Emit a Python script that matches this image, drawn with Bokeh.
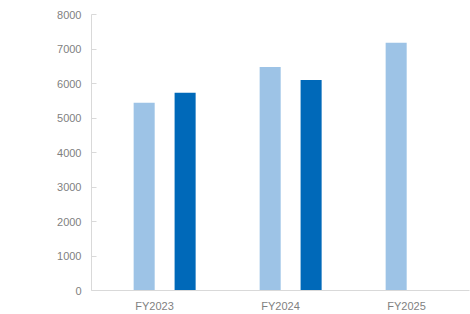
from bokeh.plotting import figure
from bokeh.models import ColumnDataSource, FactorRange, Range1d, SingleIntervalTicker
from bokeh.transform import dodge
from bokeh.embed import file_html
from bokeh.resources import INLINE

categories = ["FY2023", "FY2024", "FY2025"]
series_light = [5440, 6480, 7180]
series_dark = [5730, 6100, None]

light_src = ColumnDataSource(dict(
    cat=[c for c, v in zip(categories, series_light) if v is not None],
    val=[v for v in series_light if v is not None]))
dark_src = ColumnDataSource(dict(
    cat=[c for c, v in zip(categories, series_dark) if v is not None],
    val=[v for v in series_dark if v is not None]))

p = figure(width=470, height=314, x_range=FactorRange(*categories),
           y_range=Range1d(0, 8000), output_backend="svg", toolbar_location=None,
           min_border_left=91, min_border_right=1, min_border_top=14, min_border_bottom=23)
p.outline_line_color = None
p.xgrid.visible = False
p.ygrid.visible = False
p.background_fill_color = "white"
p.border_fill_color = "white"

bw = 0.167
p.vbar(x=dodge("cat", -0.082, range=p.x_range), top="val", width=bw, source=light_src,
       fill_color="#9DC3E6", line_color=None)
p.vbar(x=dodge("cat", 0.243, range=p.x_range), top="val", width=bw, source=dark_src,
       fill_color="#0069B9", line_color=None)

font = "Liberation Sans"
p.yaxis.ticker = SingleIntervalTicker(interval=1000)
p.yaxis.minor_tick_line_color = None
p.yaxis.minor_tick_in = 0
p.yaxis.minor_tick_out = 0
p.yaxis.major_tick_in = 5
p.yaxis.major_tick_out = 0
p.yaxis.major_tick_line_color = "#d9d9d9"
p.yaxis.axis_line_color = "#d9d9d9"
p.yaxis.major_label_text_color = "#7f7f7f"
p.yaxis.major_label_text_font = font
p.yaxis.major_label_text_font_size = "11px"
p.yaxis.major_label_standoff = 10

p.xaxis.major_tick_line_color = None
p.xaxis.minor_tick_line_color = None
p.xaxis.major_tick_in = 0
p.xaxis.major_tick_out = 0
p.xaxis.minor_tick_in = 0
p.xaxis.minor_tick_out = 0
p.xaxis.axis_line_color = "#d9d9d9"
p.xaxis.major_label_text_color = "#7f7f7f"
p.xaxis.major_label_text_font = font
p.xaxis.major_label_text_font_size = "11px"
p.xaxis.major_label_standoff = 9

open("out.html", "w").write(file_html(p, INLINE))
